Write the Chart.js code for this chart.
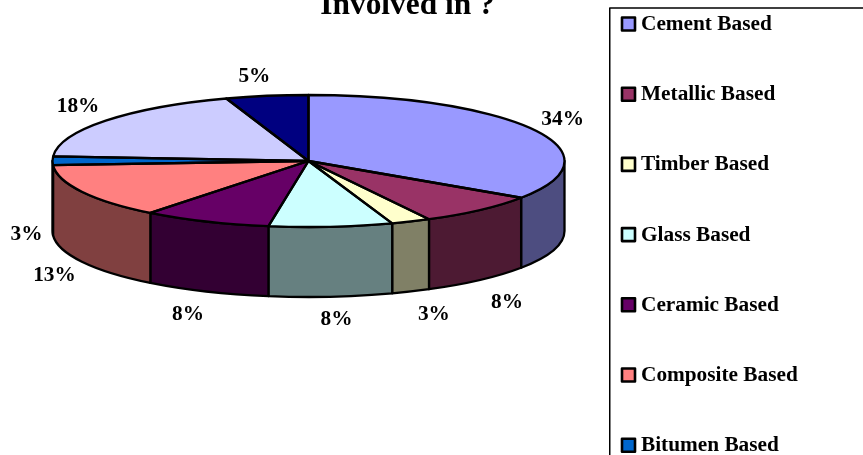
<!DOCTYPE html>
<html>
<head>
<meta charset="utf-8">
<style>
html,body{margin:0;padding:0;background:#fff;overflow:hidden}
#wrap{position:absolute;left:0;top:0;width:863px;height:455px}
</style>
<script src="https://cdn.jsdelivr.net/npm/chart.js@4"></script>
</head>
<body>
<div id="wrap"><canvas id="c" width="863" height="455"></canvas></div>
<script>
const categories = ['Cement Based','Metallic Based','Timber Based','Glass Based','Ceramic Based','Composite Based','Bitumen Based','',''];
const shares = [34.4,7.8,2.5,7.8,8.1,13.4,2.1,18.7,5.2];
const shareLabels = ['34%','8%','3%','8%','8%','13%','3%','18%','5%'];
const topColors = ['#9999FF','#993366','#FFFFCC','#CCFFFF','#660066','#FF8080','#0066CC','#CCCCFF','#000080'];
const wallColors = ['#4D4D80','#4D1A33','#808066','#668080','#330033','#804040','#003366','#666680','#000040'];
const titleText = 'Involved in ?';

const FONT = '"Liberation Serif"';
const view = {cx:308.5, cy:161, rx:256, ry:66, depth:70};
const labelNudge = [[-7,1],[0,5],[7,1],[2,-1],[-2,1],[8,3],[14,4],[4,0],[-6,4]];

function applyView(ctx, arc){
  ctx.translate(view.cx, view.cy);
  ctx.scale(view.rx/arc.outerRadius, view.ry/arc.outerRadius);
  ctx.translate(-arc.x, -arc.y);
}

const pie3d = {
  id:'pie3d',
  beforeDatasetsDraw(chart){
    const ctx = chart.ctx;
    const arcs = chart.getDatasetMeta(0).data;
    ctx.lineWidth = 2.3;
    ctx.strokeStyle = '#000';
    ctx.lineJoin = 'round';
    arcs.forEach((arc,i)=>{
      const a = Math.max(arc.startAngle,0), b = Math.min(arc.endAngle,Math.PI);
      if(b<=a) return;
      ctx.beginPath();
      ctx.save(); applyView(ctx,arc);
      ctx.arc(arc.x,arc.y,arc.outerRadius,a,b);
      ctx.restore();
      ctx.save(); ctx.translate(0,view.depth); applyView(ctx,arc);
      ctx.arc(arc.x,arc.y,arc.outerRadius,b,a,true);
      ctx.restore();
      ctx.closePath();
      ctx.fillStyle = wallColors[i];
      ctx.fill();
      ctx.stroke();
    });
    ctx.save();
    applyView(ctx,arcs[0]);
  },
  afterDatasetsDraw(chart){
    const ctx = chart.ctx;
    ctx.restore();
    const arcs = chart.getDatasetMeta(0).data;
    ctx.lineWidth = 2.3;
    ctx.strokeStyle = '#000';
    ctx.lineJoin = 'round';
    arcs.forEach(arc=>{
      ctx.beginPath();
      ctx.save(); applyView(ctx,arc);
      ctx.moveTo(arc.x,arc.y);
      ctx.arc(arc.x,arc.y,arc.outerRadius,arc.startAngle,arc.endAngle);
      ctx.closePath();
      ctx.restore();
      ctx.stroke();
    });
    // percentage labels
    ctx.fillStyle = '#000';
    ctx.font = 'bold 21.3px '+FONT;
    ctx.textAlign = 'center';
    ctx.textBaseline = 'middle';
    arcs.forEach((arc,i)=>{
      const m = (arc.startAngle+arc.endAngle)/2;
      const s = Math.sin(m);
      const x = view.cx + (view.rx+40)*Math.cos(m) + labelNudge[i][0];
      const y = view.cy + (view.ry+24)*s + (s>-0.05?view.depth:0) + labelNudge[i][1];
      ctx.fillText(shareLabels[i],x,y);
    });
    // title
    ctx.font = 'bold 31.4px '+FONT;
    ctx.textAlign = 'center';
    ctx.textBaseline = 'alphabetic';
    ctx.fillText(titleText,407.5,14);
    // legend
    ctx.lineWidth = 1.5;
    ctx.strokeStyle = '#000';
    ctx.strokeRect(609.75,8,300,520);
    ctx.font = 'bold 21.3px '+FONT;
    ctx.textAlign = 'left';
    ctx.textBaseline = 'middle';
    categories.forEach((name,i)=>{
      if(!name) return;
      const y = 24.5 + i*70.2;
      ctx.fillStyle = topColors[i];
      ctx.fillRect(622,y-7,13,13);
      ctx.lineWidth = 2.6;
      ctx.strokeRect(622,y-7,13,13);
      ctx.fillStyle = '#000';
      ctx.fillText(name,641,y);
    });
  }
};

new Chart(document.getElementById('c'),{
  type:'pie',
  data:{labels:categories,datasets:[{data:shares,backgroundColor:topColors,borderWidth:0}]},
  options:{
    responsive:false,
    animation:false,
    events:[],
    layout:{padding:0},
    plugins:{legend:{display:false},title:{display:false},tooltip:{enabled:false}}
  },
  plugins:[pie3d]
});
</script>
</body>
</html>
